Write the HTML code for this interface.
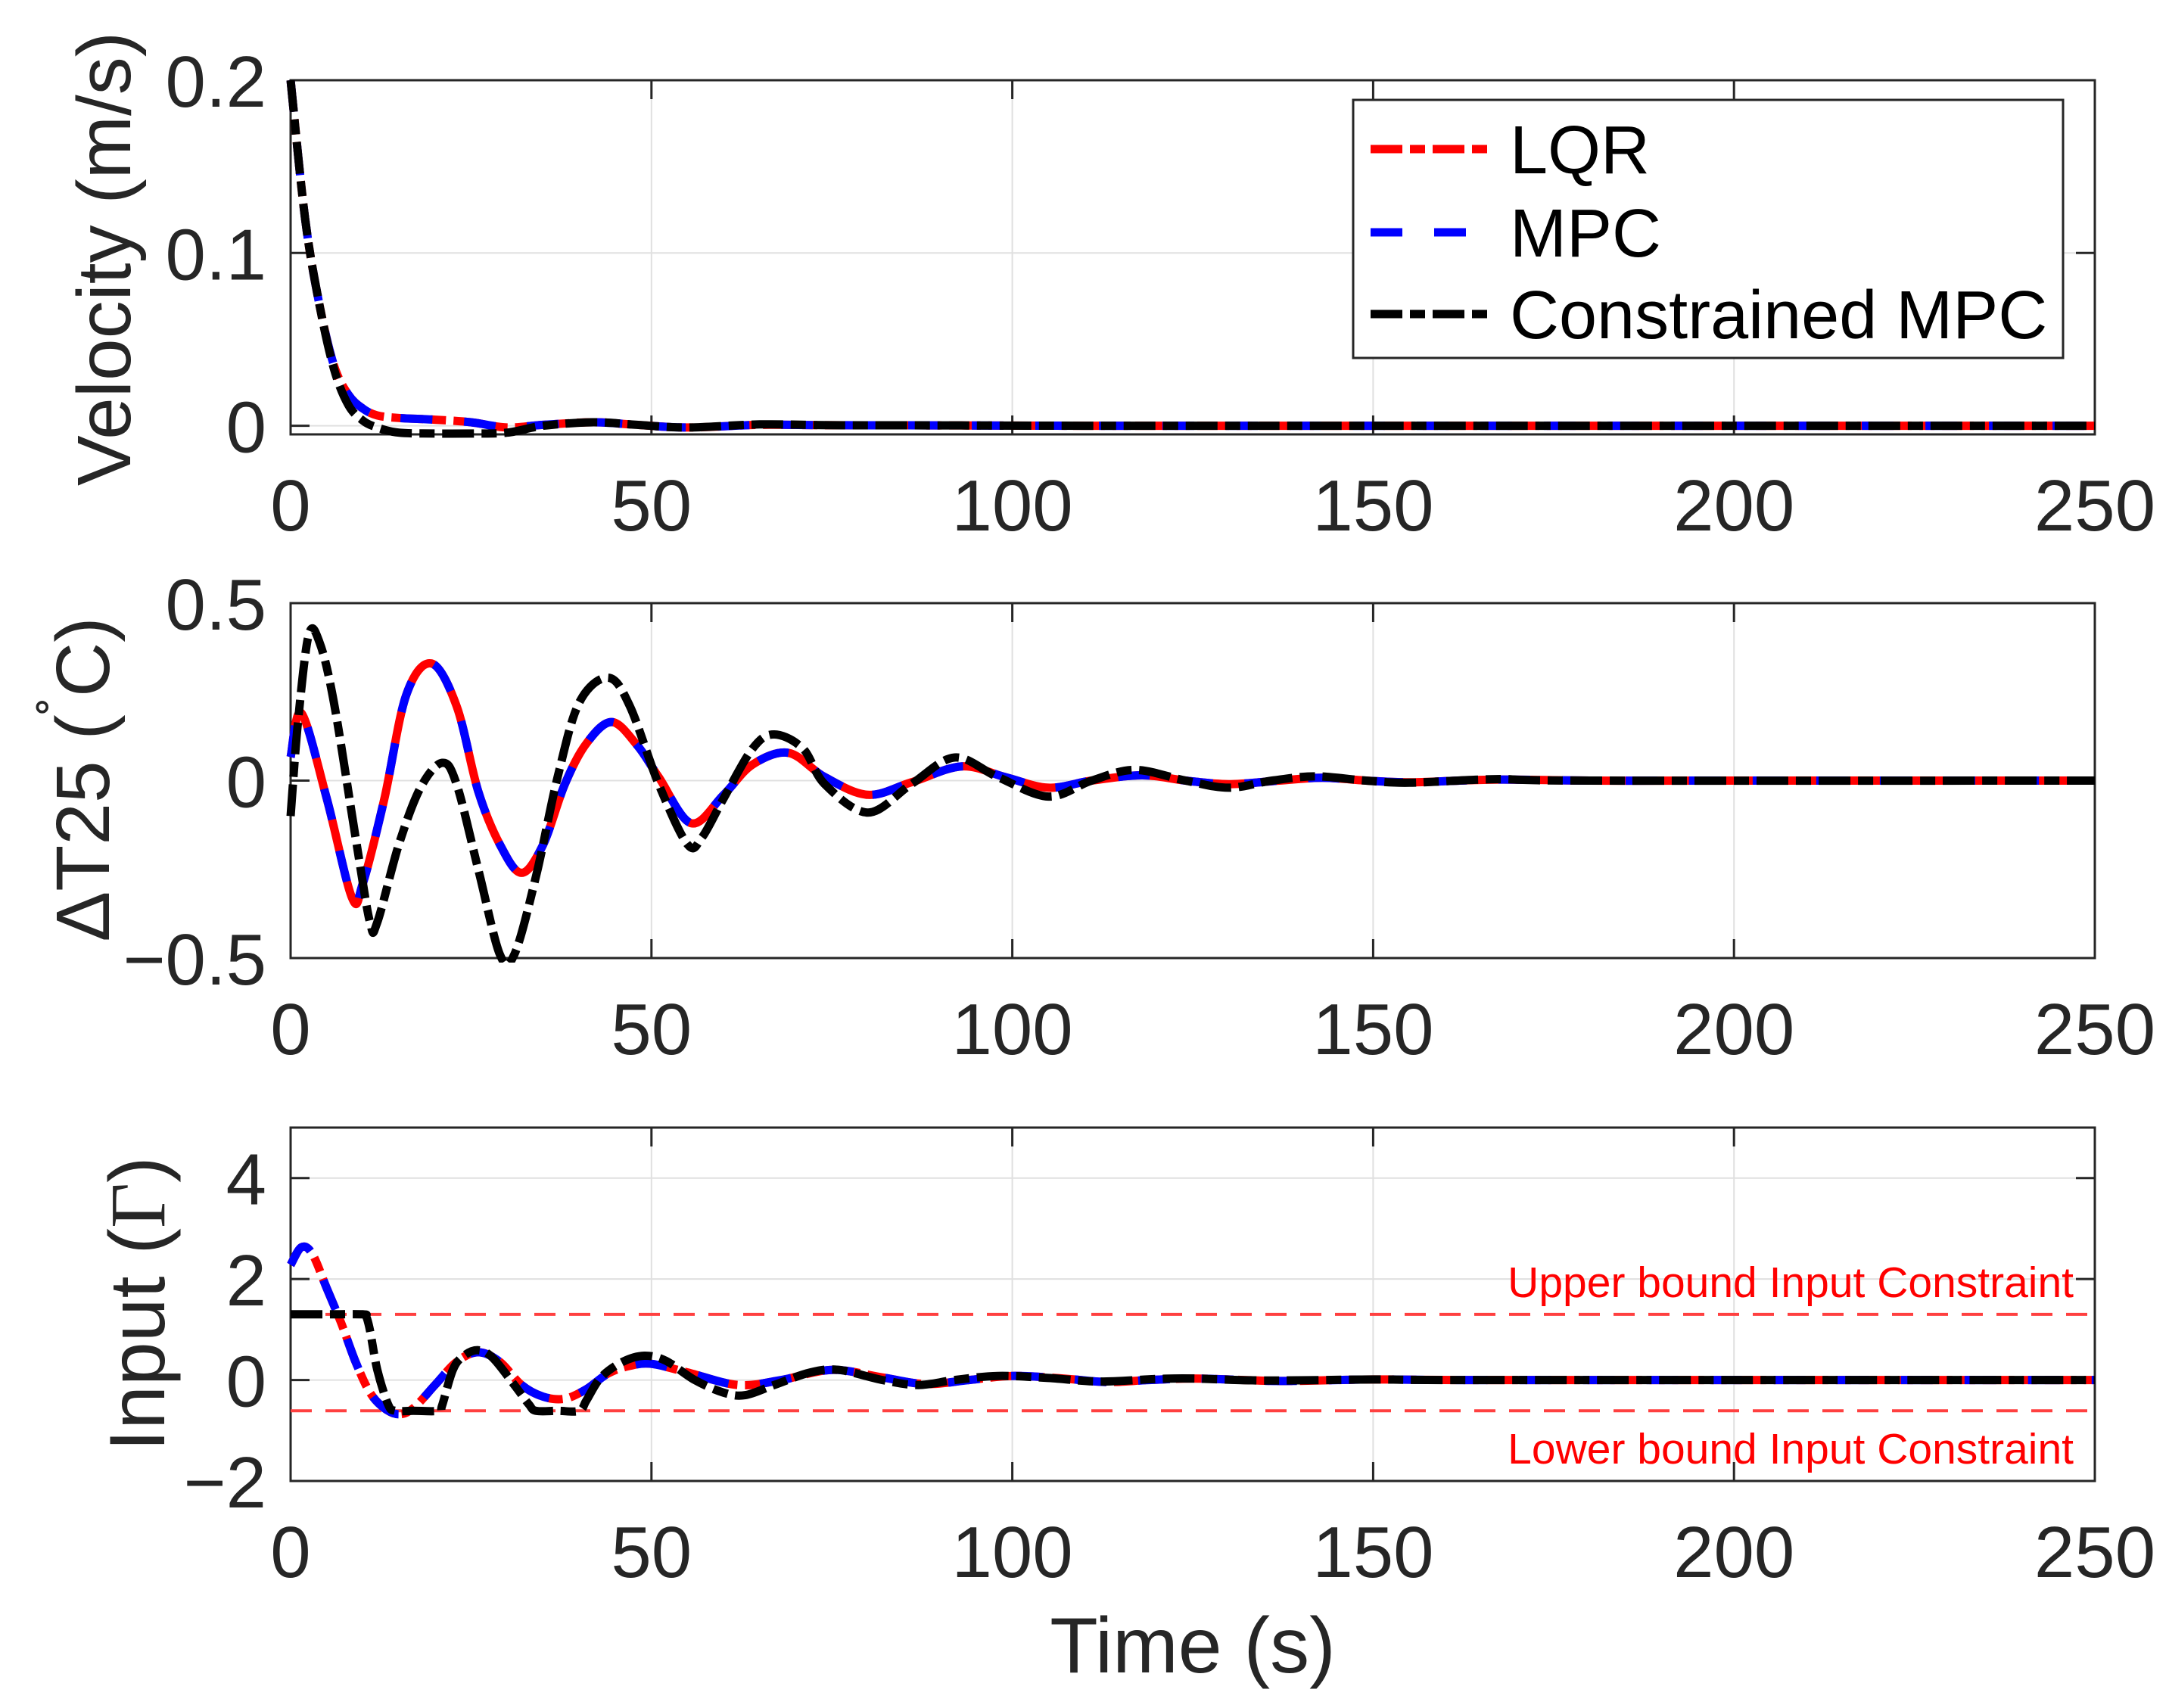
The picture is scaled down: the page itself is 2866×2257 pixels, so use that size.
<!DOCTYPE html>
<html><head><meta charset="utf-8"><style>
html,body{margin:0;padding:0;background:#fff;}
svg{display:block;font-family:"Liberation Sans",Arial,sans-serif;}
</style></head><body>
<svg id="fig" xmlns="http://www.w3.org/2000/svg" width="2866" height="2257" viewBox="0 0 2866 2257"></svg>
<script>
// ---- data ----
const xTicks = [0, 50, 100, 150, 200, 250];
const velTicks = [0, 0.1, 0.2];
const velTickLabels = ["0", "0.1", "0.2"];
const dtTicks = [-0.5, 0, 0.5];
const dtTickLabels = ["\u22120.5", "0", "0.5"];
const inTicks = [-2, 0, 2, 4];
const inTickLabels = ["\u22122", "0", "2", "4"];

const velT = [0, 2, 4, 6, 8, 10, 12, 15, 20, 25, 30, 35, 42, 48, 55, 65, 75, 90, 110, 150, 200, 250];
const velLQR = [0.2, 0.12, 0.07, 0.035, 0.018, 0.01, 0.006, 0.0045, 0.0035, 0.002, -0.001, 0.0005, 0.002, 0.0005, -0.001, 0.0005, 0.0003, 0.0002, 0, 0, 0, 0];
const velConT = [0, 2, 4, 6, 8, 10, 12, 15, 20, 25, 30, 35, 42, 48, 55, 65, 75, 90, 110, 150, 200, 250];
const velCon = [0.2, 0.12, 0.07, 0.033, 0.012, 0.003, -0.001, -0.004, -0.0045, -0.0045, -0.004, 0, 0.002, 0.0005, -0.001, 0.0008, 0.0003, 0.0002, 0, 0, 0, 0];

const dtT = [0, 1.5, 5, 8.5, 10, 13, 16, 19.5, 23, 26, 29, 32, 35, 38, 41, 44.5, 48, 51, 55.5, 60, 64, 69, 74, 80, 86, 93, 99, 105, 111, 118, 124, 130, 137, 143, 149, 155, 162, 168, 180, 200, 250];
const dtLQR = [0.066, 0.19, -0.05, -0.33, -0.29, -0.05, 0.24, 0.33, 0.21, -0.03, -0.18, -0.26, -0.18, -0.01, 0.105, 0.165, 0.1, 0.01, -0.12, -0.04, 0.045, 0.078, 0.01, -0.04, -0.005, 0.04, 0.01, -0.02, 0, 0.015, 0, -0.01, 0, 0.008, 0, -0.005, 0, 0.003, 0, 0, 0];
const dtConT = [0, 1, 2.5, 4, 6, 9, 11, 12, 15, 18, 21, 23, 26, 29, 31, 34, 37, 40, 44, 47, 51, 55, 57, 60, 64, 67, 71, 74, 80, 86, 92, 98, 105, 111, 117, 124, 130, 136, 142, 149, 155, 167, 180, 250];
const dtCon = [-0.1, 0.16, 0.41, 0.39, 0.22, -0.16, -0.4, -0.4, -0.18, -0.02, 0.05, -0.01, -0.25, -0.49, -0.49, -0.27, 0.01, 0.22, 0.29, 0.21, -0.01, -0.18, -0.16, -0.05, 0.09, 0.13, 0.09, -0.01, -0.09, -0.01, 0.065, 0.01, -0.045, 0, 0.03, 0, -0.02, 0, 0.012, 0, -0.006, 0.004, 0, 0];

const inT = [0, 1.5, 3, 5, 7, 9, 11, 13, 15, 17, 20, 23, 26, 29, 32, 35, 38, 41, 44, 47, 50, 55, 62, 68, 75, 82, 88, 94, 100, 107, 113, 119, 125, 132, 138, 150, 163, 200, 250];
const inLQR = [2.28, 2.63, 2.5, 1.82, 1.13, 0.36, -0.25, -0.56, -0.68, -0.56, -0.1, 0.36, 0.55, 0.36, -0.1, -0.33, -0.37, -0.18, 0.13, 0.28, 0.32, 0.15, -0.1, 0, 0.2, 0.05, -0.08, 0, 0.08, 0.03, -0.04, 0, 0.03, 0, -0.02, 0.01, 0, 0, 0];
const inConT = [0, 5, 10, 10.5, 11, 12, 13.5, 14.5, 17, 20.5, 21, 22.5, 24, 26, 28, 31, 33, 34, 37, 40, 41, 43, 46, 49, 52, 56, 60, 63, 67, 72, 76, 82, 87, 92, 98, 105, 112, 120, 125, 135, 150, 160, 200, 250];
const inCon = [1.3, 1.3, 1.3, 1.25, 0.98, 0.21, -0.48, -0.61, -0.61, -0.61, -0.5, 0.21, 0.48, 0.59, 0.44, -0.1, -0.48, -0.61, -0.61, -0.61, -0.4, 0.05, 0.36, 0.48, 0.38, 0, -0.25, -0.3, -0.1, 0.15, 0.2, 0, -0.1, 0, 0.08, 0.04, -0.03, 0.02, 0.03, -0.01, 0.01, 0, 0, 0];
const upperBound = 1.3;
const lowerBound = -0.61;

// ---- drawing ----
const NS = "http://www.w3.org/2000/svg";
const svg = document.getElementById("fig");
function mk(tag, attrs, parent) {
  const e = document.createElementNS(NS, tag);
  for (const k in attrs) e.setAttribute(k, attrs[k]);
  (parent || svg).appendChild(e);
  return e;
}
const L = 384, R = 2768;
const xScale = t => L + (t - 0) / 250 * (R - L);
function yScaleFn(top, bot, lo, hi) { return v => bot - (v - lo) / (hi - lo) * (bot - top); }

function pathD(ts, vs, xs, ys) {
  const p = ts.map((t, i) => [xs(t), ys(vs[i])]);
  let d = "M" + p[0][0].toFixed(1) + "," + p[0][1].toFixed(1);
  for (let i = 0; i < p.length - 1; i++) {
    const p0 = p[Math.max(0, i - 1)], p1 = p[i], p2 = p[i + 1], p3 = p[Math.min(p.length - 1, i + 2)];
    const c1x = p1[0] + (p2[0] - p0[0]) / 6, c1y = p1[1] + (p2[1] - p0[1]) / 6;
    const c2x = p2[0] - (p3[0] - p1[0]) / 6, c2y = p2[1] - (p3[1] - p1[1]) / 6;
    d += " C" + c1x.toFixed(1) + "," + c1y.toFixed(1) + " " + c2x.toFixed(1) + "," + c2y.toFixed(1) + " " + p2[0].toFixed(1) + "," + p2[1].toFixed(1);
  }
  return d;
}

function axes(name, top, bot, lo, hi, yTicks, yLabels) {
  const ys = yScaleFn(top, bot, lo, hi);
  const g = mk("g", {});
  
  
  xTicks.forEach(t => {
    const gl = mk("line", {x1: xScale(t), x2: xScale(t), y1: top, y2: bot, stroke: "#e0e0e0", "stroke-width": 2}, g);
    
    
  });
  yTicks.forEach(v => {
    const gl = mk("line", {x1: L, x2: R, y1: ys(v), y2: ys(v), stroke: "#e0e0e0", "stroke-width": 2}, g);
    
    
  });
  xTicks.forEach(t => {
    mk("line", {x1: xScale(t), x2: xScale(t), y1: bot, y2: bot - 25, stroke: "#262626", "stroke-width": 3}, g);
    mk("line", {x1: xScale(t), x2: xScale(t), y1: top, y2: top + 25, stroke: "#262626", "stroke-width": 3}, g);
    const tl = mk("text", {x: xScale(t), y: bot + 127, "text-anchor": "middle", "font-size": 96, fill: "#262626"}, g);
    tl.textContent = String(t);
    
    
  });
  yTicks.forEach((v, i) => {
    mk("line", {x1: L, x2: L + 25, y1: ys(v), y2: ys(v), stroke: "#262626", "stroke-width": 3}, g);
    mk("line", {x1: R, x2: R - 25, y1: ys(v), y2: ys(v), stroke: "#262626", "stroke-width": 3}, g);
    const tl = mk("text", {x: 352, y: ys(v) + 35, "text-anchor": "end", "font-size": 96, fill: "#262626"}, g);
    tl.textContent = yLabels[i];
    
    
  });
  const box = mk("rect", {x: L, y: top, width: R - L, height: bot - top, fill: "none", stroke: "#262626", "stroke-width": 3}, g);
  
  
  const clipId = name + "-clip";
  const cp = mk("clipPath", {id: clipId}, g);
  mk("rect", {x: L - 6, y: top, width: R - L + 6, height: bot - top + 6}, cp);
  const lg = mk("g", {"clip-path": "url(#" + clipId + ")"}, g);
  return {ys, g: lg};
}

function series(ax, ts, vs, color, dash, name) {
  const p = mk("path", {d: pathD(ts, vs, xScale, ax.ys), fill: "none", stroke: color, "stroke-width": 11, "stroke-dasharray": dash, "stroke-linejoin": "round"}, ax.g);
  
  
}
const DASHDOT = "42 10 20 10";
const DASHED = "42 42";

const a1 = axes("velocity-axes", 106, 574, -0.005, 0.2, velTicks, velTickLabels);
series(a1, velT, velLQR, "#ff0000", DASHDOT, "velocity-lqr-line");
series(a1, velT, velLQR, "#0000ff", DASHED, "velocity-mpc-line");
series(a1, velConT, velCon, "#000000", DASHDOT, "velocity-constrained-mpc-line");

const a2 = axes("dt25-axes", 797, 1266, -0.5, 0.5, dtTicks, dtTickLabels);
series(a2, dtT, dtLQR, "#ff0000", "none", "dt25-lqr-line");
series(a2, dtT, dtLQR, "#0000ff", DASHED, "dt25-mpc-line");
series(a2, dtConT, dtCon, "#000000", DASHDOT, "dt25-constrained-mpc-line");

const a3 = axes("input-axes", 1490, 1957, -2, 5, inTicks, inTickLabels);
[upperBound, lowerBound].forEach((b, i) => {
  const bl = mk("line", {x1: L, x2: R, y1: a3.ys(b), y2: a3.ys(b), stroke: "#ff4040", "stroke-width": 4, "stroke-dasharray": "28 18"}, a3.g);
  
  
});
series(a3, inT, inLQR, "#ff0000", DASHDOT, "input-lqr-line");
series(a3, inT, inLQR, "#0000ff", DASHED, "input-mpc-line");
series(a3, inConT, inCon, "#000000", DASHDOT, "input-constrained-mpc-line");
</script>
<svg style="position:absolute;left:0;top:0" width="2866" height="2257" font-family="Liberation Sans, Arial, sans-serif">
  <text x="2740" y="1714" text-anchor="end" font-size="57" fill="#ff0000">Upper bound Input Constraint</text>
  <text x="2740" y="1934" text-anchor="end" font-size="57" fill="#ff0000">Lower bound Input Constraint</text>
  <text transform="translate(172,342) rotate(-90)" text-anchor="middle" font-size="100" fill="#262626">Velocity (m/s)</text>
  <text transform="translate(144,1030) rotate(-90)" text-anchor="middle" font-size="100" fill="#262626">ΔT25 (<tspan font-size="70" dy="-40">˚</tspan><tspan dy="40">C)</tspan></text>
  <text transform="translate(217,1723) rotate(-90)" text-anchor="middle" font-size="104" fill="#262626">Input (<tspan font-family="Liberation Serif, serif">Γ</tspan>)</text>
  <text x="1576" y="2210" text-anchor="middle" font-size="104" fill="#262626">Time (s)</text>
  <g>
    <rect x="1788" y="132" width="938" height="341" fill="#fff" stroke="#262626" stroke-width="3"/>
    <line x1="1811" x2="1967" y1="197" y2="197" stroke="#ff0000" stroke-width="11" stroke-dasharray="42 10 20 10"/>
    <text x="1995" y="229" font-size="90" fill="#000">LQR</text>
    <line x1="1811" x2="1967" y1="307" y2="307" stroke="#0000ff" stroke-width="11" stroke-dasharray="42 42"/>
    <text x="1995" y="339" font-size="90" fill="#000">MPC</text>
    <line x1="1811" x2="1967" y1="415" y2="415" stroke="#000" stroke-width="11" stroke-dasharray="42 10 20 10"/>
    <text x="1995" y="447" font-size="90" fill="#000">Constrained MPC</text>
  </g>
</svg>
</body></html>
